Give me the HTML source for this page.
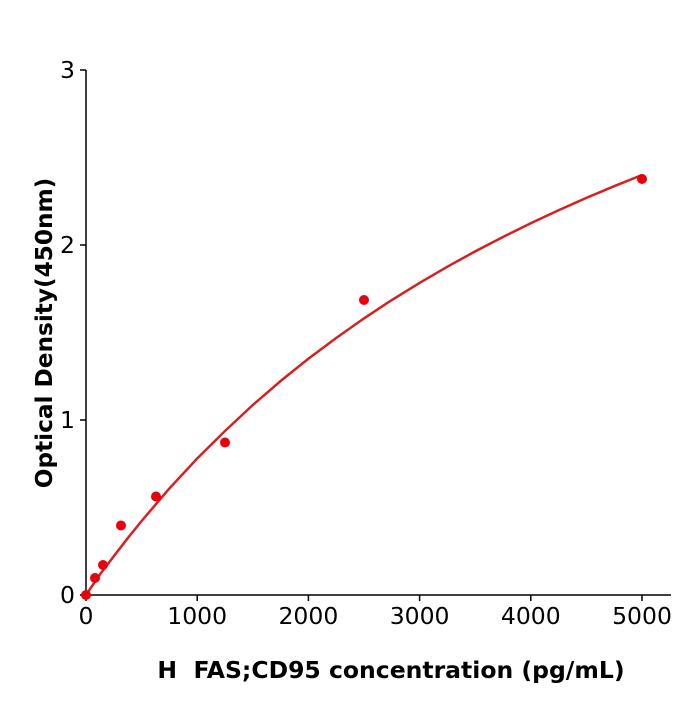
<!DOCTYPE html>
<html><head><meta charset="utf-8"><style>
html,body{margin:0;padding:0;background:#fff;}
svg text{font-family:"DejaVu Sans","Liberation Sans",sans-serif;fill:#000;}
</style></head><body>
<svg width="700" height="700" viewBox="0 0 700 700" xmlns="http://www.w3.org/2000/svg">
<g stroke="#000" stroke-width="1.5" fill="none">
<line x1="86" y1="70" x2="86" y2="595"/>
<line x1="86" y1="595" x2="671" y2="595"/>
<line x1="80" y1="595" x2="86" y2="595"/>
<line x1="80" y1="420" x2="86" y2="420"/>
<line x1="80" y1="245" x2="86" y2="245"/>
<line x1="80" y1="70" x2="86" y2="70"/>
<line x1="86" y1="595" x2="86" y2="601"/>
<line x1="197.2" y1="595" x2="197.2" y2="601"/>
<line x1="308.4" y1="595" x2="308.4" y2="601"/>
<line x1="419.6" y1="595" x2="419.6" y2="601"/>
<line x1="530.8" y1="595" x2="530.8" y2="601"/>
<line x1="642" y1="595" x2="642" y2="601"/>
</g>
<g font-size="23.5" text-anchor="end">
<text x="75" y="603">0</text>
<text x="75" y="428">1</text>
<text x="75" y="253">2</text>
<text x="75" y="78">3</text>
</g>
<g font-size="23.5" text-anchor="middle">
<text x="86" y="624">0</text>
<text x="197.2" y="624">1000</text>
<text x="308.4" y="624">2000</text>
<text x="419.6" y="624">3000</text>
<text x="530.8" y="624">4000</text>
<text x="642" y="624">5000</text>
</g>
<text x="391" y="678" font-size="23.5" font-weight="bold" text-anchor="middle" xml:space="preserve">H  FAS;CD95 concentration (pg/mL)</text>
<text transform="translate(52,333) rotate(-90)" font-size="23.2" font-weight="bold" text-anchor="middle">Optical Density(450nm)</text>
<polyline fill="none" stroke="#d62020" stroke-width="2.5" points="86,595 99.9,574.5 113.8,556.3 127.7,538.2 141.6,521 169.4,488.4 197.2,458.5 225,431 252.8,405 280.6,381 308.4,358.8 336.2,338 364,318.4 391.8,300 419.6,282.9 447.4,266.7 475.2,251.4 503,237 530.8,223.2 558.6,210.2 586.4,197.9 614.2,186.2 642,175"/>
<g fill="#e8000b">
<circle cx="86" cy="595" r="5"/>
<circle cx="95" cy="578" r="5"/>
<circle cx="103" cy="565" r="5"/>
<circle cx="121" cy="525.5" r="5"/>
<circle cx="156" cy="496.5" r="5"/>
<circle cx="225" cy="442.5" r="5"/>
<circle cx="364" cy="300" r="5"/>
<circle cx="642" cy="179" r="5"/>
</g>
</svg>
</body></html>
